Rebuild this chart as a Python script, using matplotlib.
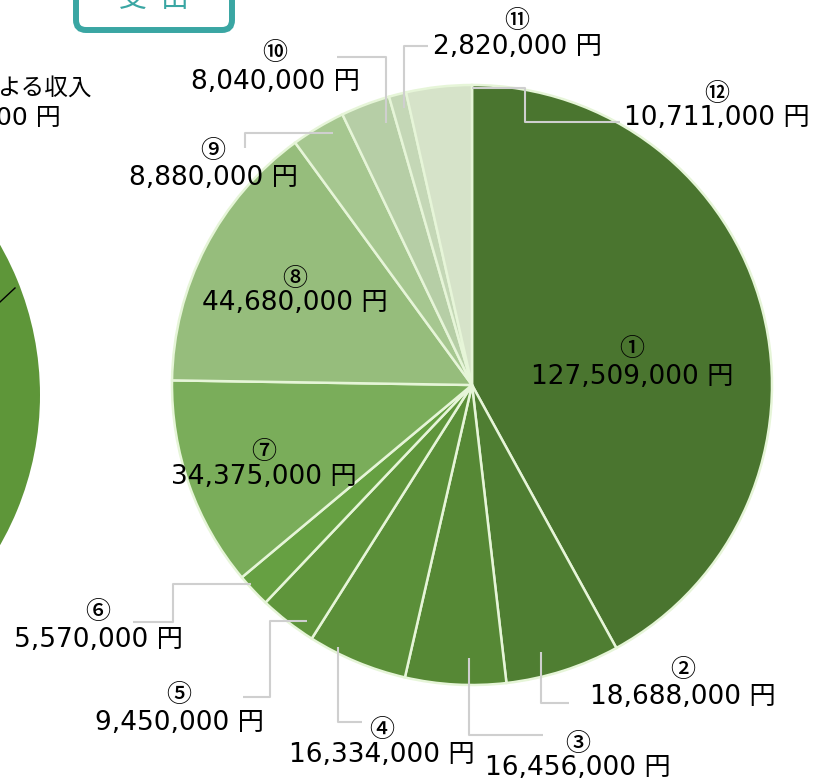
import numpy as np
import matplotlib
matplotlib.use('Agg')
import matplotlib.pyplot as plt
from matplotlib.patches import FancyBboxPatch

# 支出の内訳（円）
numeros = ['①', '②', '③', '④', '⑤', '⑥', '⑦', '⑧', '⑨', '⑩', '⑪', '⑫']
valores = [127509000, 18688000, 16456000, 16334000, 9450000, 5570000,
           34375000, 44680000, 8880000, 8040000, 2820000, 10711000]
cores = ['#4a752f', '#4f7e32', '#568835', '#5b8f39', '#5f953b', '#66a042',
         '#7aad5a', '#96bd7c', '#a6c790', '#b6cea6', '#c4d7b6', '#d6e3c9']

# Layout em pixels (figura 822x784)
W, H = 822, 784
cx, cy, raio = 472, 385, 300

# rótulos internos: (índice, x, y do número, y do valor)
internos = [(0, 632, 349, 377), (7, 295, 279, 303), (6, 264, 452, 477)]

# rótulos externos: índice -> (fração no setor, fração do raio, caminho, x, y do número, y do valor)
externos = {
    1: (0.64, 0.92, [('v', 703), ('h', 569)], 683, 670, 697),
    2: (0.37, 0.91, [('v', 735), ('h', 543)], 578, 744, 768),
    3: (0.73, 0.98, [('v', 722), ('h', 362)], 382, 730, 755),
    4: (0.23, 0.96, [('h', 270), ('v', 697), ('h', 243)], 179, 695, 723),
    5: (0.68, 0.99, [('h', 173), ('v', 622), ('h', 133)], 98, 612, 640),
    8: (0.69, 0.96, [('h', 245), ('v', 148)], 213, 151, 178),
    9: (0.78, 0.92, [('v', 57), ('h', 337)], 275, 53, 82),
    10: (0.65, 0.95, [('v', 46), ('h', 428)], 517, 21, 47),
    11: (1.00, 0.99, [('h', 525), ('v', 122), ('h', 620)], 717, 94, 118),
}

fonte_valor = ['DejaVu Sans', 'Noto Sans CJK JP']
fonte_num = ['Noto Sans CJK JP', 'DejaVu Sans']

fig = plt.figure(figsize=(W / 100, H / 100), dpi=100)
ax = fig.add_axes([0, 0, 1, 1])

# pizza vizinha (cortada na borda esquerda)
ax.pie([1], colors=['#5e9639'], radius=302, center=(-262, 395),
       wedgeprops=dict(linewidth=0))
ax.plot([0, 15], [302, 288], color='black', linewidth=1)

# eixo y invertido: counterclock=True e início em -90 desenha no sentido horário a partir do topo
ax.pie(valores, colors=cores, radius=raio, center=(cx, cy),
       startangle=-90, counterclock=True,
       wedgeprops=dict(edgecolor='#e6f5d8', linewidth=1.8))

ax.set_xlim(0, W)
ax.set_ylim(H, 0)
ax.set_aspect('equal')
ax.axis('off')

# ângulos dos setores (graus no sentido horário a partir do topo)
total = sum(valores)
fim = np.cumsum(valores) / total * 360
inicio = fim - np.array(valores) / total * 360


def texto_valor(v):
    return f'{v:,} 円'


def rotulo(i, x, yn, yv):
    ax.text(x, yn, numeros[i], ha='center', va='center', fontsize=18,
            weight='medium', family=fonte_num)
    ax.text(x, yv, texto_valor(valores[i]), ha='center', va='center',
            fontsize=19, family=fonte_valor)


for i, x, yn, yv in internos:
    rotulo(i, x, yn, yv)

for i, (frac, fr, caminho, x, yn, yv) in externos.items():
    ang = np.radians(inicio[i] + frac * (fim[i] - inicio[i]))
    px = cx + fr * raio * np.sin(ang)
    py = cy - fr * raio * np.cos(ang)
    xs, ys = [px], [py]
    for eixo, c in caminho:
        if eixo == 'v':
            xs.append(xs[-1]); ys.append(c)
        else:
            xs.append(c); ys.append(ys[-1])
    ax.plot(xs, ys, color='#cfcfcf', linewidth=1.5, solid_capstyle='butt')
    rotulo(i, x, yn, yv)

# texto cortado à esquerda
ax.text(-3, 88, 'よる収入', ha='left', va='center', fontsize=17, family=fonte_num)
ax.text(-4, 118, '00 円', ha='left', va='center', fontsize=18, family=fonte_valor)

# caixa "支出" cortada no topo
caixa = FancyBboxPatch((76, -40), 156, 70, boxstyle='round,pad=0,rounding_size=10',
                       facecolor='white', edgecolor='#3aa6a3', linewidth=4.3)
ax.add_patch(caixa)
ax.text(133, -1, '支', ha='center', va='center', fontsize=20, color='#3aa6a3', family=fonte_num)
ax.text(175, -1, '出', ha='center', va='center', fontsize=20, color='#3aa6a3', family=fonte_num)

fig.savefig('out.png', dpi=100)
